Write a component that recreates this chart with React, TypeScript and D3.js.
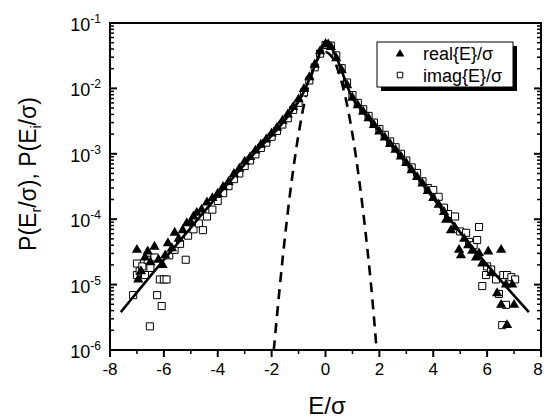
import React from 'react'
import * as d3 from 'd3'

// fitted curve (solid)
const fitX = [-7.6, -7, -6, -5, -4, -3, -2.5, -2, -1.5, -1, -0.75, -0.5, -0.25, -0.1, 0.05, 0.2, 0.5, 0.75, 1, 1.5, 2, 3, 4, 5, 6, 7, 7.55]
const fitY = [3.8e-6, 7.6e-6, 2.4e-5, 7.4e-5, 2.3e-4, 6.9e-4, 1.17e-3, 1.9e-3, 3.3e-3, 6.3e-3, 0.01, 0.0174, 0.0316, 0.0436, 0.049, 0.0436, 0.024, 0.0126, 7.2e-3, 3.9e-3, 2.2e-3, 7.2e-4, 2.1e-4, 6.3e-5, 2.0e-5, 6.8e-6, 3.8e-6]

// gaussian (dashed)
const gaussX = [-1.92, -1.7, -1.5, -1.25, -1.0, -0.75, -0.5, -0.25, 0, 0.25, 0.5, 0.75, 1.0, 1.25, 1.5, 1.7, 1.9]
const gaussY = [1e-6, 9e-6, 5.6e-5, 4e-4, 2e-3, 7e-3, 0.017, 0.03, 0.036, 0.03, 0.017, 7e-3, 2e-3, 4e-4, 5.6e-5, 9e-6, 1e-6]

// real{E}/sigma (filled triangles)
const realX = [
  -7.0, -6.95, -6.85, -6.7, -6.6, -6.5, -6.35, -6.2, -6.05, -5.95, -5.85, -5.7, -5.6, -5.45, -5.3, -5.15, -5.0, -4.9, -4.78, -4.6, -4.4, -4.2,
  -4.0, -3.8, -3.6, -3.4, -3.2, -3.0, -2.8, -2.6, -2.4, -2.2, -2.0, -1.8, -1.6, -1.4, -1.2, -1.0, -0.8, -0.6, -0.4, -0.2,
  0.0, 0.1, 0.2, 0.4, 0.6, 0.8, 1.0, 1.2, 1.4, 1.6, 1.8, 2.0, 2.2, 2.4, 2.6, 2.8, 3.0, 3.2, 3.4, 3.6, 3.8, 4.0, 4.2, 4.4,
  4.48, 4.66, 4.8, 4.96, 5.03, 5.15, 5.3, 5.45, 5.59, 5.7, 5.82, 6.04, 6.15, 6.37, 6.52, 6.52, 6.7, 6.74, 6.93, 7.0
]
const realY = [
  3.4e-5, 1.2e-5, 1.6e-5, 2.6e-5, 3.2e-5, 2.2e-5, 3.8e-5, 2.4e-5, 2.0e-5, 2.8e-5, 4.3e-5, 3.6e-5, 6.2e-5, 5.0e-5, 6.8e-5, 8.7e-5, 9.0e-5, 1.1e-4, 1.25e-4, 1.4e-4, 1.8e-4, 2.1e-4,
  2.45e-4, 3.1e-4, 3.7e-4, 4.9e-4, 5.9e-4, 7.6e-4, 8.9e-4, 1.12e-3, 1.38e-3, 1.66e-3, 2.04e-3, 2.5e-3, 3.2e-3, 4.0e-3, 5.2e-3, 6.8e-3, 9.8e-3, 0.0148, 0.023, 0.037,
  0.048, 0.047, 0.043, 0.029, 0.019, 0.0112, 7.2e-3, 5.5e-3, 4.4e-3, 3.5e-3, 2.75e-3, 2.2e-3, 1.78e-3, 1.41e-3, 1.15e-3, 9.1e-4, 7.2e-4, 5.6e-4, 4.4e-4, 3.5e-4, 2.7e-4, 2.1e-4, 1.66e-4, 1.29e-4,
  9.8e-5, 6.8e-5, 7.5e-5, 3.4e-5, 2.8e-5, 5.0e-5, 4.0e-5, 3.3e-5, 2.6e-5, 3.0e-5, 2.1e-5, 3.2e-5, 1.5e-5, 7.4e-6, 3.4e-5, 4.9e-6, 1.0e-5, 2.4e-6, 1.0e-5, 4.9e-6
]

// imag{E}/sigma (open squares)
const imagX = [
  -7.14, -7.0, -7.0, -6.9, -6.8, -6.7, -6.6, -6.52, -6.5, -6.35, -6.25, -6.15, -6.08, -6.0, -5.9, -5.8, -5.6, -5.4, -5.19, -5.1, -4.9, -4.7, -4.55, -4.4, -4.2,
  -4.0, -3.8, -3.6, -3.4, -3.2, -3.0, -2.8, -2.6, -2.4, -2.2, -2.0, -1.8, -1.6, -1.4, -1.2, -1.0, -0.8, -0.6, -0.4, -0.2,
  0.0, 0.2, 0.4, 0.6, 0.8, 1.0, 1.2, 1.4, 1.6, 1.8, 2.0, 2.2, 2.4, 2.6, 2.8, 3.0, 3.2, 3.4, 3.6, 3.8, 4.0, 4.2, 4.4,
  4.55, 4.81, 5.0, 5.22, 5.33, 5.5, 5.63, 5.7, 5.82, 5.96, 6.0, 6.15, 6.33, 6.44, 6.56, 6.6, 6.7, 6.74, 6.9, 7.04
]
const imagY = [
  6.9e-6, 2.1e-5, 1.4e-5, 1.6e-5, 1.9e-5, 1.4e-5, 2.4e-5, 2.3e-6, 1.8e-5, 2.6e-5, 6.9e-6, 1.2e-5, 4.7e-6, 1.2e-5, 1.2e-5, 2.8e-5, 3.4e-5, 4.2e-5, 2.4e-5, 5.6e-5, 7.0e-5, 8.6e-5, 6.8e-5, 1.1e-4, 1.4e-4,
  1.9e-4, 2.5e-4, 3.2e-4, 4.1e-4, 5.0e-4, 6.5e-4, 7.9e-4, 9.8e-4, 1.23e-3, 1.48e-3, 1.82e-3, 2.24e-3, 2.8e-3, 3.5e-3, 4.7e-3, 6.0e-3, 8.7e-3, 0.0132, 0.021, 0.034,
  0.046, 0.045, 0.032, 0.0204, 0.0123, 7.9e-3, 6.0e-3, 4.8e-3, 3.8e-3, 3.0e-3, 2.4e-3, 1.95e-3, 1.55e-3, 1.26e-3, 1.0e-3, 7.9e-4, 6.2e-4, 5.1e-4, 3.8e-4, 3.0e-4, 2.8e-4, 2.2e-4, 1.5e-4,
  1.2e-4, 1.1e-4, 6.5e-5, 6.2e-5, 4.5e-5, 4.0e-5, 4.8e-5, 7.6e-5, 9.5e-6, 1.4e-5, 1.9e-5, 1.7e-5, 1.2e-5, 7.2e-6, 2.4e-6, 1.4e-5, 4.9e-6, 1.4e-5, 1.3e-5, 1.2e-5
]

const xMajor = [-8, -6, -4, -2, 0, 2, 4, 6, 8]
const xMinor = [-7, -5, -3, -1, 1, 3, 5, 7]
const yDecades = [-6, -5, -4, -3, -2, -1]
const legendLabels = ['real{E}/σ', 'imag{E}/σ']

const font = 'Liberation Sans, Arial, Helvetica, sans-serif'

export default function App() {
  const width = 544
  const height = 419
  const left = 110, right = 541, top = 23, bottom = 350

  const x = d3.scaleLinear().domain([-8, 8]).range([left, right])
  const y = d3.scaleLog().domain([1e-6, 1e-1]).range([bottom, top])

  const line = d3.line<number>()
    .x((d, i) => x(fitX[i]))
    .y((d) => y(d))
    .curve(d3.curveCatmullRom)
  const dashLine = d3.line<number>()
    .x((d, i) => x(gaussX[i]))
    .y((d) => y(d))
    .curve(d3.curveCatmullRom)

  const tri = d3.symbol(d3.symbolTriangle, 46)()
  const sq = d3.symbol(d3.symbolSquare, 50)()

  const yMinor: number[] = []
  yDecades.slice(0, 5).forEach(e => {
    for (let k = 2; k <= 9; k++) yMinor.push(k * Math.pow(10, e))
  })

  return (
    <svg width={width} height={height} style={{ position: 'absolute', left: 0, top: 0, background: '#fff' }}
      fontFamily={font}>
      <rect width={width} height={height} fill="#fff" />

      <path d={dashLine(gaussY) || ''} fill="none" stroke="#000" strokeWidth={2.6} strokeDasharray="10,7" />

      {imagX.map((v, i) => (
        <path key={`im_${i}`} d={sq || ''} transform={`translate(${x(v)},${y(imagY[i])})`}
          fill="#fff" stroke="#000" strokeWidth={1} />
      ))}
      {realX.map((v, i) => (
        <path key={`re_${i}`} d={tri || ''} transform={`translate(${x(v)},${y(realY[i])})`} fill="#000" />
      ))}

      <path d={line(fitY) || ''} fill="none" stroke="#000" strokeWidth={2.6} />

      {/* frame */}
      <rect x={left} y={top} width={right - left} height={bottom - top} fill="none" stroke="#000" strokeWidth={2} />

      {/* x ticks (outward) */}
      {xMajor.map(v => (
        <g key={`xt_${v}`}>
          <line x1={x(v)} x2={x(v)} y1={bottom} y2={bottom + 7} stroke="#000" strokeWidth={2} />
          <text x={Math.min(x(v), 538)} y={bottom + 25} fontSize={17} textAnchor="middle">{v}</text>
        </g>
      ))}
      {xMinor.map(v => (
        <line key={`xm_${v}`} x1={x(v)} x2={x(v)} y1={bottom} y2={bottom + 4} stroke="#000" strokeWidth={1.5} />
      ))}

      {/* y ticks (inward, both sides) */}
      {yDecades.map(e => (
        <g key={`yt_${e}`}>
          <line x1={left} x2={left + 7} y1={y(Math.pow(10, e))} y2={y(Math.pow(10, e))} stroke="#000" strokeWidth={2} />
          <line x1={right - 7} x2={right} y1={y(Math.pow(10, e))} y2={y(Math.pow(10, e))} stroke="#000" strokeWidth={2} />
          <text x={101} y={y(Math.pow(10, e)) + 8} fontSize={18} textAnchor="end">
            10<tspan fontSize={12} dy={-8}>{e}</tspan>
          </text>
        </g>
      ))}
      {yMinor.map((v, i) => (
        <g key={`ym_${i}`}>
          <line x1={left} x2={left + 4} y1={y(v)} y2={y(v)} stroke="#000" strokeWidth={1.5} />
          <line x1={right - 4} x2={right} y1={y(v)} y2={y(v)} stroke="#000" strokeWidth={1.5} />
        </g>
      ))}

      {/* axis titles */}
      <text x={327} y={414} fontSize={24} textAnchor="middle">E/σ</text>
      <text transform={`translate(36,174) rotate(-90)`} fontSize={23} textAnchor="middle">
        P(E<tspan fontSize={14} dy={5}>r</tspan><tspan dy={-5}>/σ), P(E</tspan><tspan fontSize={14} dy={5}>i</tspan><tspan dy={-5}>/σ)</tspan>
      </text>

      {/* legend */}
      <rect x={381} y={46} width={136} height={45} fill="#000" />
      <rect x={377} y={42} width={136} height={45} fill="#fff" stroke="#000" strokeWidth={1} />
      <path d={d3.symbol(d3.symbolTriangle, 34)() || ''} transform="translate(400,54)" fill="#000" />
      <path d={d3.symbol(d3.symbolSquare, 30)() || ''} transform="translate(400,75)" fill="#fff" stroke="#000" strokeWidth={1} />
      {legendLabels.map((t, i) => (
        <text key={t} x={423} y={60 + i * 22} fontSize={18}>{t}</text>
      ))}
    </svg>
  )
}
